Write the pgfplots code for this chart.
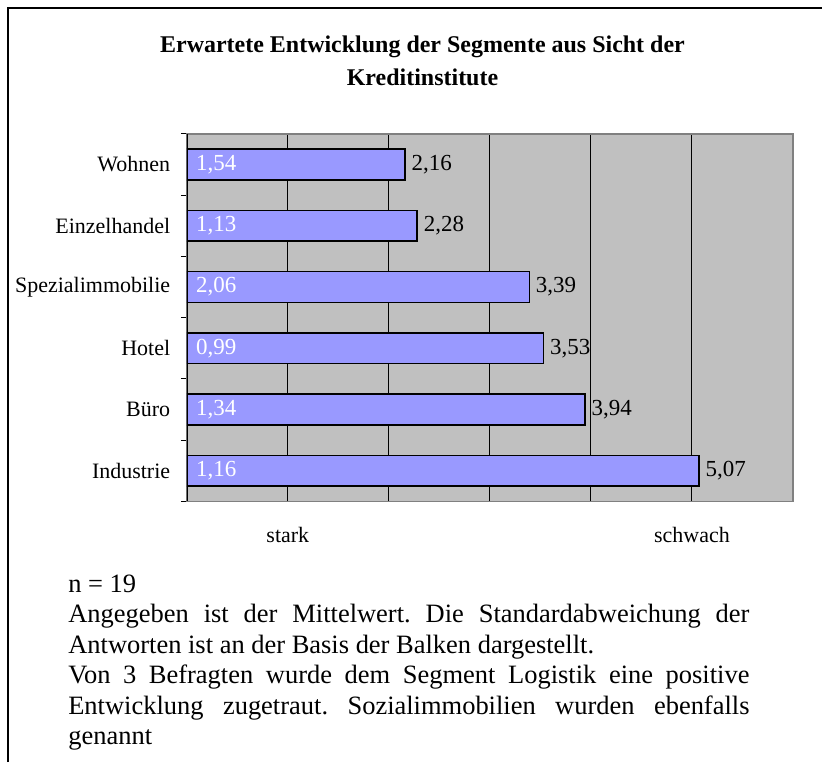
\documentclass[border=0pt]{standalone}
\usepackage{fontspec}
\setmainfont{Liberation Serif}
\usepackage{pgfplots}
\usepackage{pgfplotstable}
\pgfplotsset{compat=1.18}

\definecolor{plotbg}{HTML}{C0C0C0}
\definecolor{barfill}{HTML}{9999FF}
\definecolor{plotframe}{HTML}{808080}

% y position, mean, standard deviation (label at bar base)
\pgfplotstableread{
y mean sd base
5 2.16 1.54 0
4 2.28 1.13 0
3 3.39 2.06 0
2 3.53 0.99 0
1 3.94 1.34 0
0 5.07 1.16 0
}\segdata

\begin{document}
\frenchspacing
\begin{tikzpicture}
\path (0,0) rectangle (411.5pt,-381.5pt);
\draw[line width=1pt] (4pt,-381.5pt) -- (4pt,-4pt) -- (411.5pt,-4pt);

\node[font=\bfseries\fontsize{12}{14}\selectfont, anchor=base] at (211.5pt,-26.5pt)
  {Erwartete Entwicklung der Segmente aus Sicht der};
\node[font=\bfseries\fontsize{12}{14}\selectfont, anchor=base] at (211.5pt,-43pt)
  {Kreditinstitute};

\begin{axis}[
  at={(93.5pt,-251pt)}, anchor=south west,
  scale only axis, width=303.5pt, height=184pt,
  xmin=0, xmax=6, ymin=-0.5, ymax=5.5,
  axis background/.style={fill=plotbg},
  axis line style={plotframe, line width=0.75pt},
  xtick={1,2,3,4,5}, xticklabels={stark,,,,schwach},
  xmajorgrids, grid style={black, line width=0.5pt},
  ytick={0,...,5},
  yticklabels={Industrie,Büro,Hotel,Spezialimmobilie,Einzelhandel,Wohnen},
  minor ytick={-0.5,0.5,...,5.5},
  major tick length=0pt, minor tick length=3pt,
  tick align=outside, tick style={black, line width=0.5pt},
  xtick pos=bottom, ytick pos=left,
  ticklabel style={font=\fontsize{11}{13}\selectfont},
  yticklabel style={xshift=-4.8pt},
  xticklabel style={yshift=-9.5pt},
  /pgf/number format/assume math mode=true,
]
\addplot[xbar, bar width=0.5, fill=barfill, draw=black, line width=0.8pt,
  point meta=x,
  nodes near coords={\pgfmathprintnumber[fixed,zerofill,precision=2,use comma]{\pgfplotspointmeta}},
  nodes near coords align={horizontal},
  every node near coord/.append style={anchor=west, black, line width=0pt,
    font=\fontsize{11.5}{13}\selectfont}]
  table[x=mean, y=y] {\segdata};
\addplot[draw=none, mark=none, point meta=explicit,
  nodes near coords={\pgfmathprintnumber[fixed,zerofill,precision=2,use comma]{\pgfplotspointmeta}},
  every node near coord/.append style={anchor=west, white, xshift=1.2pt,
    font=\fontsize{11.5}{13}\selectfont}]
  table[x=base, y=y, meta=sd] {\segdata};
\draw[black, line width=0.75pt] (axis cs:0,-0.5) -- (axis cs:0,5.5);
\end{axis}

\node[anchor=north west, inner sep=0pt, text width=341pt, align=justify,
  font=\fontsize{13.25}{15.25}\selectfont]
  at (34pt,-287.5pt)
  {\hyphenpenalty=10000\relax
   n = 19\\
   Angegeben ist der Mittelwert. Die Standardabweichung der\linebreak
   Antworten ist an der Basis der Balken dargestellt.\\
   Von 3 Befragten wurde dem Segment Logistik eine positive\linebreak
   Entwicklung zugetraut. Sozialimmobilien wurden ebenfalls\linebreak
   genannt};
\end{tikzpicture}
\end{document}
